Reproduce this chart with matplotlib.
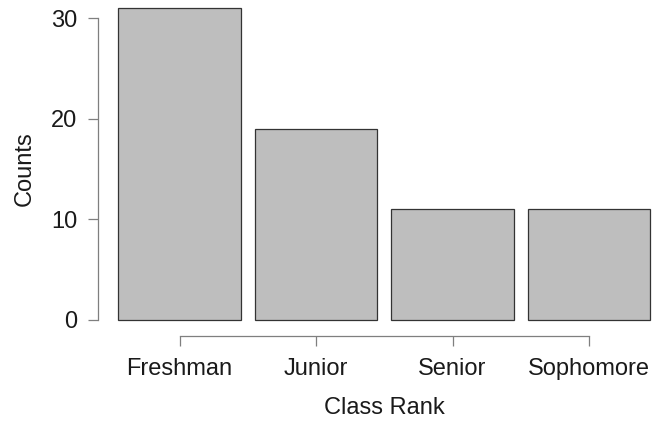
import matplotlib
matplotlib.use("Agg")
import matplotlib.pyplot as plt

categories = ["Freshman", "Junior", "Senior", "Sophomore"]
counts = [31, 19, 11, 11]
y_ticks = [0, 10, 20, 30]

plt.rcParams["font.family"] = ["Liberation Sans", "DejaVu Sans"]

W, H = 660, 421
fig = plt.figure(figsize=(W / 100, H / 100), dpi=100)

# axes frame in pixel terms
left_px, right_px = 98, 656
top_px, bottom_px = 5, 336
ax = fig.add_axes([left_px / W, 1 - bottom_px / H,
                   (right_px - left_px) / W, (bottom_px - top_px) / H])

x = list(range(len(categories)))
ax.bar(x, counts, width=0.9, color="#bebebe", edgecolor="#333333", linewidth=0.9)

# data-to-pixel mapping
x0_px, dx_px = 179.5, 136.5
y0_px, dy_px = 320, 302 / 30
ax.set_xlim((left_px - x0_px) / dx_px, (right_px - x0_px) / dx_px)
ax.set_ylim((y0_px - bottom_px) / dy_px, (y0_px - top_px) / dy_px)

for s in ("top", "right"):
    ax.spines[s].set_visible(False)
ax.spines["left"].set_bounds(0, 30)
ax.spines["bottom"].set_bounds(0, len(categories) - 1)
for s in ("left", "bottom"):
    ax.spines[s].set_color("#7f7f7f")
    ax.spines[s].set_linewidth(0.9)

fs = 17
ax.set_xticks(x)
ax.set_xticklabels(categories)
ax.set_yticks(y_ticks)
ax.tick_params(axis="both", length=7.5, width=0.9, color="#7f7f7f",
               labelsize=fs, labelcolor="#1a1a1a")
ax.tick_params(axis="x", pad=8)
ax.tick_params(axis="y", pad=7.5)

fig.text(25 / W, 1 - 169 / H, "Counts", rotation=90, ha="center", va="center",
         fontsize=fs, color="#1a1a1a")
fig.text(384.5 / W, 1 - 408 / H, "Class Rank", ha="center", va="center",
         fontsize=fs, color="#1a1a1a")

fig.savefig("out.png", dpi=100)
